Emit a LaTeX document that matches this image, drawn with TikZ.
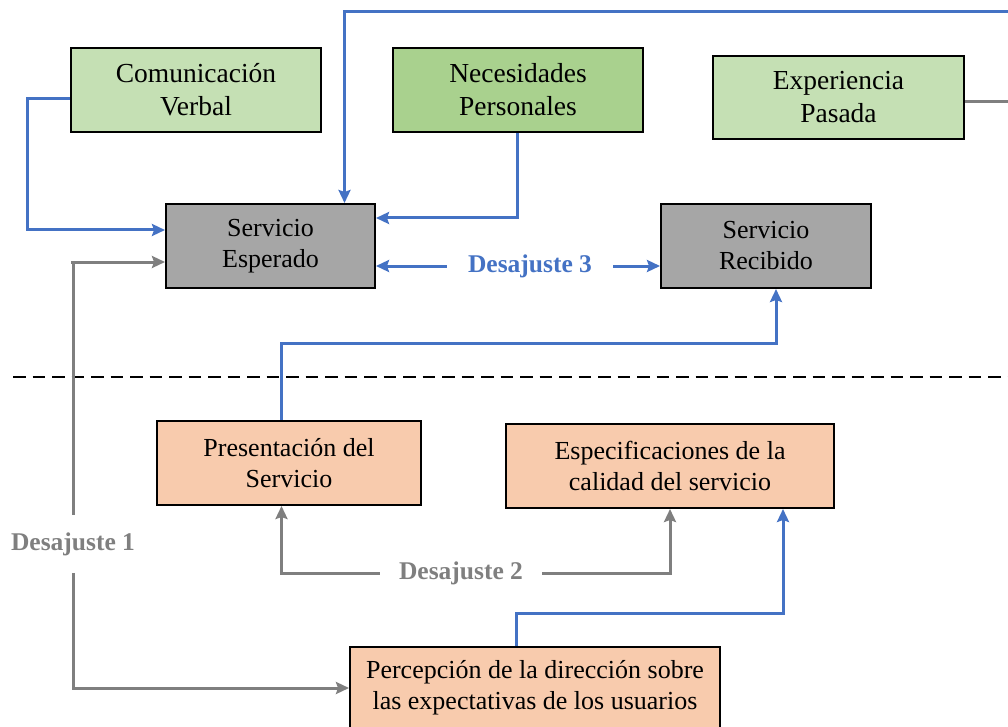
\documentclass[tikz,border=0pt]{standalone}
\usepackage{fontspec}
\setmainfont{Liberation Serif}
\usetikzlibrary{arrows.meta,calc}
\definecolor{gLight}{HTML}{C5E0B4}
\definecolor{gDark}{HTML}{A9D18E}
\definecolor{boxGray}{HTML}{A6A6A6}
\definecolor{salmon}{HTML}{F8CBAD}
\definecolor{lineBlue}{HTML}{4472C4}
\definecolor{lineGray}{HTML}{7F7F7F}
\tikzset{
  box/.style={draw=black, line width=2pt, inner sep=0pt, align=center},
  topfont/.style={font=\fontsize{27.5}{33}\selectfont},
  lowfont/.style={font=\fontsize{26}{31}\selectfont},
  tip/.style={-{Stealth[length=13pt,width=12pt,inset=2pt]}},
  bl/.style={draw=lineBlue, line width=3pt},
  gl/.style={draw=lineGray, line width=3pt},
  lbl/.style={font=\fontsize{25.5}{30}\selectfont\bfseries, inner ysep=0pt}
}
\begin{document}
\begin{tikzpicture}[x=1pt,y=-1pt]
\useasboundingbox (0,0) rectangle (1008,727);
% boxes
\node[box, topfont, fill=gLight, minimum width=250, minimum height=84] (cv) at (196,90) {Comunicación\\Verbal};
\node[box, topfont, fill=gDark, minimum width=250, minimum height=84] (np) at (518,90) {Necesidades\\Personales};
\node[box, topfont, fill=gLight, minimum width=251, minimum height=83] (ep) at (838.5,97.5) {Experiencia\\Pasada};
\node[box, lowfont, fill=boxGray, minimum width=209, minimum height=84] (se) at (270.5,246) {Servicio\\Esperado};
\node[box, lowfont, fill=boxGray, minimum width=210, minimum height=84] (sr) at (766,246) {Servicio\\Recibido};
\node[box, lowfont, fill=salmon, minimum width=264, minimum height=84] (ps) at (289,463) {Presentación del\\Servicio};
\node[box, lowfont, fill=salmon, minimum width=328, minimum height=84] (ec) at (670,466) {Especificaciones de la\\calidad del servicio};
\node[box, lowfont, fill=salmon, minimum width=370, minimum height=82] (pd) at (535,688) {Percepción de la dirección sobre\\las expectativas de los usuarios};
% labels
\node[lbl, text=lineBlue, inner xsep=21pt] (d3) at (530,266) {Desajuste 3};
\node[lbl, text=lineGray, inner xsep=0pt, inner ysep=17pt] (d1) at (73,544) {Desajuste 1};
\node[lbl, text=lineGray, inner xsep=19pt] (d2) at (461,573) {Desajuste 2};
% dashed separator
\coordinate (s1) at (13,377);
\coordinate (s2) at (1010,377);
\draw[black, line width=2.8pt, dash pattern=on 12.5pt off 7pt] (s1) -- (s2);
% top blue line into Servicio Esperado
\coordinate (t1) at (1012,12);
\coordinate (t2) at (344.5,12);
\draw[bl, tip] (t1) -- (t2) -- (se.north -| t2);
% Comunicacion Verbal -> Servicio Esperado
\coordinate (c1) at (27,230);
\draw[bl, tip] ([yshift=-9pt]cv.west) -| (c1) -- (se.west |- c1);
% Necesidades -> Servicio Esperado
\coordinate (n1) at (517,218);
\draw[bl, tip] (np.south -| n1) -- (n1) -- (se.east |- n1);
% Experiencia Pasada line to the right
\coordinate (e1) at (1012,102);
\draw[gl] (ep.east |- e1) -- (e1);
% Desajuste 3 arrows
\draw[bl, tip] (d3.west) -- (se.east |- d3);
\draw[bl, tip] (d3.east) -- (sr.west |- d3);
% Presentacion -> Servicio Recibido
\coordinate (b1) at (281.5,343);
\coordinate (b2) at (776,343);
\draw[bl, tip] (ps.north -| b1) -- (b1) -- (b2) -- (b2 |- sr.south);
% Percepcion -> Especificaciones
\coordinate (b3) at (516,613);
\coordinate (b4) at (783,613);
\draw[bl, tip] (pd.north -| b3) -- (b3) -- (b4) -- (b4 |- ec.south);
% Desajuste 1
\coordinate (g1) at (71,262);
\draw[gl, tip] (g1) -- (se.west |- g1);
\draw[gl] (g1 -| d1) -- (d1.north);
\draw[gl, tip] (d1.south) |- (pd.west);
% Desajuste 2
\coordinate (p2) at (281.5,573);
\draw[gl, tip] (d2.west) -- (d2.west -| p2) -- (p2 |- ps.south);
\draw[gl, tip] (d2.east) -| (ec.south);
\end{tikzpicture}
\end{document}
